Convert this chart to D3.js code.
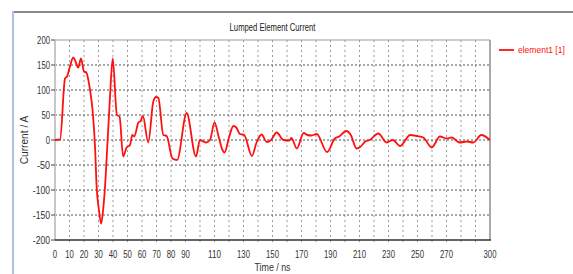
<!DOCTYPE html>
<html>
<head>
<meta charset="utf-8">
<script src="https://cdn.jsdelivr.net/npm/d3@7"></script>
<style>
	body { margin: 0; background: #fff; }
	svg { display: block; }
	text { font-family: "Liberation Sans", Arial, sans-serif; }
</style>
</head>
<body>
<div id="chart"></div>
<script>
// data
const timeNs = [0, 3.5, 6.9, 8.5, 10.3, 12.6, 14, 16, 17.9, 20, 21.6, 24, 26, 27.6, 28.7, 30.3, 31.8, 33, 34.5, 36.3,
	38, 39.8, 42.7, 44.5, 47, 49.4, 51.7, 53.3, 54.7, 57.5, 59, 60.6, 64.3, 67.8, 69.7, 71.3, 74.7, 77, 81, 84.2,
	90.8, 97.2, 100, 104, 106.9, 110, 113, 115.5, 117, 120, 123, 125, 127.5, 130.5, 135.8, 139, 142.5, 146, 149, 152.9,
	157.5, 161.6, 163, 166.8, 171.5, 174, 177, 180.5, 187.6, 193, 196, 201, 204, 208, 210.5, 214, 217, 223, 228.7, 233,
	238, 245, 249.7, 254, 259.8, 265.5, 270, 273.6, 279, 284, 288.5, 294, 300]
const currentA = [0, 1, 123, 128, 147, 165, 158, 145, 163, 137, 135, 103, 57, -13, -93, -140, -167, -145, -93, 0,
	90, 163, 50, 47, -33, -15, -10, 10, 7, 35, 38, 48, -5, 77, 86, 84, 10, 8, -37, -40,
	54, -33, 0, -5, 0, 35, 5, -20, -25, 5, 28, 25, 12, 10, -32, -5, 11, -4, 0, 15,
	0, -1, 4, -17, 14, 10, 9, 12, -24, 3, 7, 18, 10, -17, -14, -3, 0, 13, -5, 0,
	-12, 10, 8, 5, -15, 7, 3, 5, -5, -3, -5, 10, 0]

const xTickLabels = [0, 10, 20, 30, 40, 50, 60, 70, 80, 90, 110, 130, 150, 170, 190, 210, 230, 250, 270, 300]
const xGrid = d3.range(10, 300, 10)
const yTicks = [-200, -150, -100, -50, 0, 50, 100, 150, 200]
const seriesName = "element1 [1]"

const W = 573, H = 274

// squeeze text horizontally, the original uses a narrow font
function narrow(sel, perChar) {
	sel.attr("textLength", function () { return this.textContent.length * perChar })
		.attr("lengthAdjust", "spacingAndGlyphs")
}

const svg = d3.select("#chart").append("svg")
	.attr("width", W)
	.attr("height", H)

// outer frame
svg.append("line").attr("x1", 13).attr("x2", W).attr("y1", 12).attr("y2", 12)
	.attr("stroke", "#8a8a8a").attr("stroke-width", 2)
svg.append("line").attr("x1", 13).attr("x2", 13).attr("y1", 11).attr("y2", H)
	.attr("stroke", "#a9c3e6").attr("stroke-width", 2)

const x = d3.scaleLinear().domain([0, 300]).range([55, 490])
const y = d3.scaleLinear().domain([-200, 200]).range([240, 40])

// grid
svg.append("g").selectAll("line")
	.data(xGrid)
	.join("line")
	.attr("x1", d => x(d)).attr("x2", d => x(d))
	.attr("y1", y(200)).attr("y2", y(-200) + 3)
	.attr("stroke", "#9a9a9a").attr("stroke-dasharray", "2,3")

svg.append("g").selectAll("line")
	.data(yTicks.filter(d => d > -200 && d < 200))
	.join("line")
	.attr("x1", x(0)).attr("x2", x(300))
	.attr("y1", d => y(d)).attr("y2", d => y(d))
	.attr("stroke", "#555").attr("stroke-dasharray", "2,2")

// plot border
svg.append("line").attr("x1", x(0)).attr("x2", x(300)).attr("y1", y(200)).attr("y2", y(200))
	.attr("stroke", "#999")
svg.append("line").attr("x1", x(300)).attr("x2", x(300)).attr("y1", y(200)).attr("y2", y(-200))
	.attr("stroke", "#aaa").attr("stroke-width", 2)
svg.append("line").attr("x1", x(0)).attr("x2", x(0)).attr("y1", y(200)).attr("y2", y(-200))
	.attr("stroke", "#c8c8c8").attr("stroke-width", 2)
svg.append("line").attr("x1", x(0)).attr("x2", x(300) + 1).attr("y1", y(-200)).attr("y2", y(-200))
	.attr("stroke", "#333").attr("stroke-width", 1.5)

// y axis labels
const yAxis = svg.append("g")
yAxis.selectAll("line")
	.data(yTicks)
	.join("line")
	.attr("x1", x(0) - 4).attr("x2", x(0))
	.attr("y1", d => y(d)).attr("y2", d => y(d))
	.attr("stroke", "#444")
yAxis.selectAll("text")
	.data(yTicks)
	.join("text")
	.attr("x", x(0) - 5)
	.attr("y", d => y(d))
	.attr("dy", "0.35em")
	.attr("text-anchor", "end")
	.attr("font-size", 10)
	.attr("fill", "#333")
	.text(d => d)
	.call(narrow, 4.3)

// x axis labels
svg.append("g").selectAll("text")
	.data(xTickLabels)
	.join("text")
	.attr("x", d => x(d))
	.attr("y", 258)
	.attr("text-anchor", "middle")
	.attr("font-size", 10)
	.attr("fill", "#333")
	.text(d => d)
	.call(narrow, 4.3)

// titles
svg.append("text")
	.attr("x", (x(0) + x(300)) / 2)
	.attr("y", 31)
	.attr("text-anchor", "middle")
	.attr("font-size", 10)
	.attr("fill", "#222")
	.text("Lumped Element Current")
	.call(narrow, 3.9)

svg.append("text")
	.attr("transform", "translate(28," + y(0) + ") rotate(-90)")
	.attr("text-anchor", "middle")
	.attr("font-size", 10)
	.attr("fill", "#333")
	.text("Current / A")
	.call(narrow, 4.4)

svg.append("text")
	.attr("x", (x(0) + x(300)) / 2)
	.attr("y", 271)
	.attr("text-anchor", "middle")
	.attr("font-size", 10)
	.attr("fill", "#333")
	.text("Time / ns")
	.call(narrow, 4)

// series
const pts = timeNs.map((t, i) => [t, currentA[i]])
const line = d3.line()
	.x(d => x(d[0]))
	.y(d => y(d[1]))
	.curve(d3.curveMonotoneX)

svg.append("path")
	.datum(pts)
	.attr("fill", "none")
	.attr("stroke", "#ff1010")
	.attr("stroke-width", 1.8)
	.attr("stroke-linejoin", "round")
	.attr("d", line)

// legend
svg.append("line").attr("x1", 499).attr("x2", 514).attr("y1", 50).attr("y2", 50)
	.attr("stroke", "#ff1010").attr("stroke-width", 1.8)
svg.append("text")
	.attr("x", 518)
	.attr("y", 50)
	.attr("dy", "0.35em")
	.attr("font-size", 9)
	.attr("fill", "#ff1010")
	.text(seriesName)
	.call(narrow, 3.9)
</script>
</body>
</html>
